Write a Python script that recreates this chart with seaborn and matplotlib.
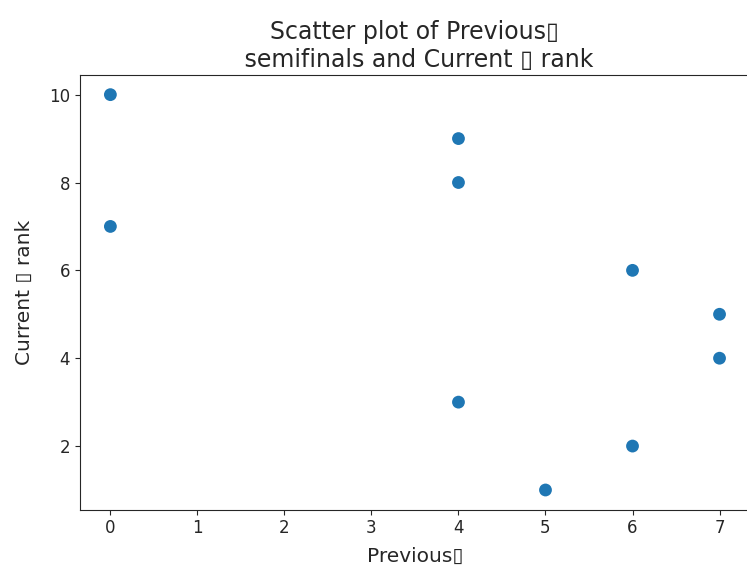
import matplotlib
matplotlib.use('Agg')
import matplotlib.pyplot as plt
import pandas as pd
import seaborn as sns

# Values
previous_semifinals = [0, 0, 4, 4, 4, 5, 6, 6, 7, 7]
current_rank = [10, 7, 9, 8, 3, 1, 6, 2, 5, 4]

df = pd.DataFrame({'Previous': previous_semifinals, 'Current rank': current_rank})

sns.set_style('ticks')
plt.rcParams['font.family'] = ['DejaVu Sans']

fig = plt.figure(figsize=(7.47, 5.76), dpi=100)
ax = fig.add_axes([0.107, 0.115, 0.897, 0.755])

sns.scatterplot(data=df, x='Previous', y='Current rank', ax=ax,
                color='#1f77b4', s=85, edgecolor='none')

ax.set_title('Scatter plot of Previous\u25af\n semifinals and Current \u25af rank', fontsize=17)
ax.set_xlabel('Previous\u25af', fontsize=14.5, labelpad=7)
ax.set_ylabel('Current \u25af rank', fontsize=14.5, labelpad=11)
ax.tick_params(labelsize=12)
ax.set_xticks(range(0, 8))
ax.set_yticks([2, 4, 6, 8, 10])

fig.savefig('out.png', dpi=100)
